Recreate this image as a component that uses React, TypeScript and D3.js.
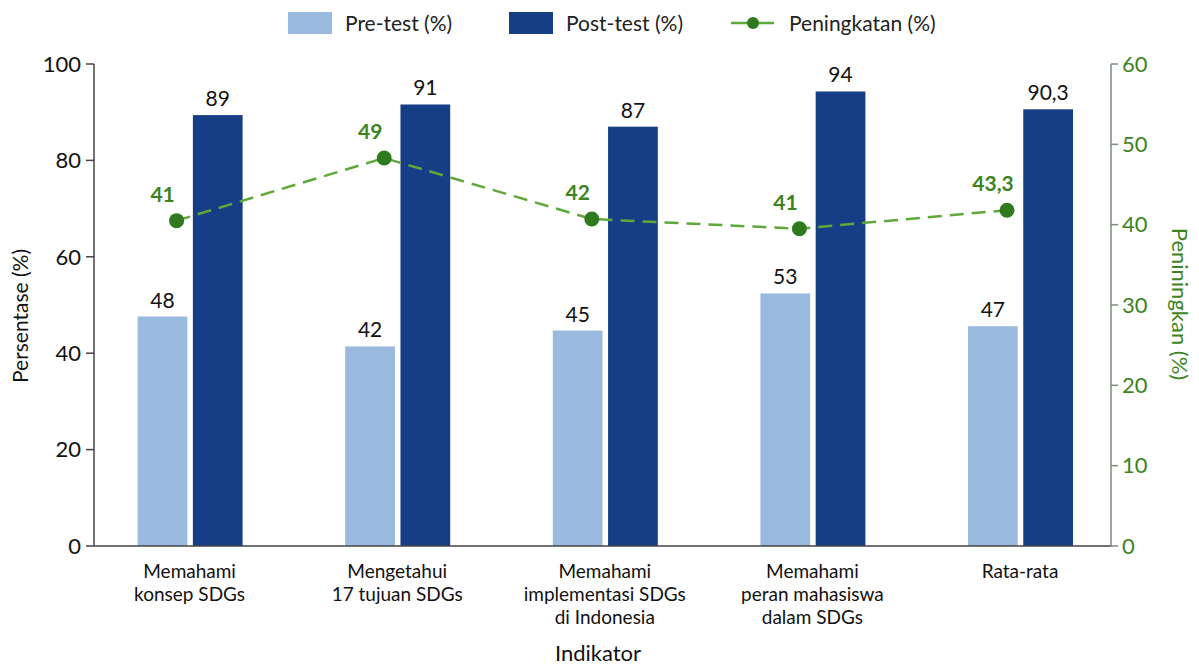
import React from 'react';
import * as d3 from 'd3';

// data
const categories = [
  ['Memahami', 'konsep SDGs'],
  ['Mengetahui', '17 tujuan SDGs'],
  ['Memahami', 'implementasi SDGs', 'di Indonesia'],
  ['Memahami', 'peran mahasiswa', 'dalam SDGs'],
  ['Rata-rata'],
];
const preValues = [47.6, 41.4, 44.7, 52.4, 45.6];
const postValues = [89.4, 91.6, 87.0, 94.3, 90.6];
const gainValues = [40.5, 48.3, 40.7, 39.5, 41.8];
const preLabels = ['48', '42', '45', '53', '47'];
const postLabels = ['89', '91', '87', '94', '90,3'];
const gainLabels = ['41', '49', '42', '41', '43,3'];
const legendItems = ['Pre-test (%)', 'Post-test (%)', 'Peningkatan (%)'];

const W = 1199;
const H = 666;
const FONT = "Lato, 'Open Sans', sans-serif";

const PRE = '#9ab9df';
const POST = '#163e87';
const LINE = '#5fa83a';
const DOT = '#2f7a1f';
const GREEN_TEXT = '#3d8421';

const App: React.FC = () => {
  const axisLeft = 94;
  const axisRight = 1111;
  const base = 546;
  const top = 64;

  const keys = categories.map((_, i) => String(i));
  const x = d3.scaleBand<string>().domain(keys).range([85.8, 1123.8]);
  const yL = d3.scaleLinear().domain([0, 100]).range([base, top]);
  const yR = d3.scaleLinear().domain([0, 60]).range([base, top]);

  const center = (i: number) => (x(String(i)) as number) + x.bandwidth() / 2;
  const sub = (i: number) =>
    d3.scaleBand<string>().domain(['pre', 'post']).range([center(i) - 52, center(i) + 53]).paddingInner(0.1);

  const lineX = (i: number) => center(i) - 13;
  const line = d3
    .line<number>()
    .x((_, i) => lineX(i))
    .y((d) => yR(d));

  return (
    <svg
      width={W}
      height={H}
      style={{ position: 'absolute', left: 0, top: 0, background: '#fff' }}
      fontFamily={FONT}
    >
      <rect width={W} height={H} fill="#fff" />

      {/* legend */}
      <g>
        <rect x={288} y={12} width={44} height={22} fill={PRE} />
        <text x={345} y={31} fontSize={21} fill="#222">{legendItems[0]}</text>
        <rect x={509} y={12} width={44} height={22} fill={POST} />
        <text x={566} y={31} fontSize={21} fill="#222">{legendItems[1]}</text>
        <line x1={731} x2={774} y1={23} y2={23} stroke={LINE} strokeWidth={2.5} />
        <circle cx={753} cy={23} r={6} fill={DOT} />
        <text x={789} y={31} fontSize={21} fill="#222">{legendItems[2]}</text>
      </g>

      {/* bars */}
      {categories.map((_, i) => {
        const s = sub(i);
        return (
          <g key={i}>
            <rect x={s('pre')} y={yL(preValues[i])} width={s.bandwidth()} height={base - yL(preValues[i])} fill={PRE} />
            <rect x={s('post')} y={yL(postValues[i])} width={s.bandwidth()} height={base - yL(postValues[i])} fill={POST} />
            <text x={(s('pre') as number) + s.bandwidth() / 2} y={yL(preValues[i]) - 9} fontSize={21} textAnchor="middle" fill="#111">
              {preLabels[i]}
            </text>
            <text x={(s('post') as number) + s.bandwidth() / 2} y={yL(postValues[i]) - 9} fontSize={21} textAnchor="middle" fill="#111">
              {postLabels[i]}
            </text>
          </g>
        );
      })}

      {/* axes */}
      <line x1={axisLeft} x2={axisLeft} y1={top} y2={base} stroke="#444" strokeWidth={1.5} />
      <line x1={axisLeft} x2={axisRight} y1={base} y2={base} stroke="#444" strokeWidth={1.5} />
      <line x1={axisRight} x2={axisRight} y1={top} y2={base} stroke="#7d8c7d" strokeWidth={1.5} />

      {yL.ticks(5).map((t) => (
        <g key={'l' + t}>
          <line x1={axisLeft - 8} x2={axisLeft} y1={yL(t)} y2={yL(t)} stroke="#444" strokeWidth={1.5} />
          <text x={axisLeft - 13} y={yL(t)} dy="0.35em" fontSize={22} textAnchor="end" fill="#111">
            {t}
          </text>
        </g>
      ))}
      {yR.ticks(6).map((t) => (
        <g key={'r' + t}>
          <line x1={axisRight} x2={axisRight + 7} y1={yR(t)} y2={yR(t)} stroke="#7d8c7d" strokeWidth={1.5} />
          <text x={axisRight + 11} y={yR(t)} dy="0.35em" fontSize={22} fill={GREEN_TEXT}>
            {t}
          </text>
        </g>
      ))}

      {/* category labels, one text per line */}
      {categories.map((lines, i) =>
        lines.map((l, j) => (
          <text key={'c' + i + '-' + j} x={center(i)} y={578 + j * 23} fontSize={19} textAnchor="middle" fill="#111">
            {l}
          </text>
        ))
      )}

      {/* axis titles */}
      <text x={598} y={661} fontSize={22} textAnchor="middle" fill="#111">Indikator</text>
      <text transform="translate(21,316) rotate(-90)" fontSize={21} textAnchor="middle" dy="0.35em" fill="#111">
        Persentase (%)
      </text>
      <text transform="translate(1180,304) rotate(90)" fontSize={22} textAnchor="middle" dy="0.35em" fill={GREEN_TEXT}>
        Peniningkan (%)
      </text>

      {/* gain line */}
      <path d={line(gainValues) || ''} fill="none" stroke={LINE} strokeWidth={2.5} strokeDasharray="14 8" />
      {gainValues.map((v, i) => (
        <g key={'g' + i}>
          <circle cx={lineX(i)} cy={yR(v)} r={7.5} fill={DOT} />
          <text x={lineX(i) - 14} y={yR(v) - 19} fontSize={21} fontWeight={700} textAnchor="middle" fill={GREEN_TEXT}>
            {gainLabels[i]}
          </text>
        </g>
      ))}
    </svg>
  );
};

export default App;
